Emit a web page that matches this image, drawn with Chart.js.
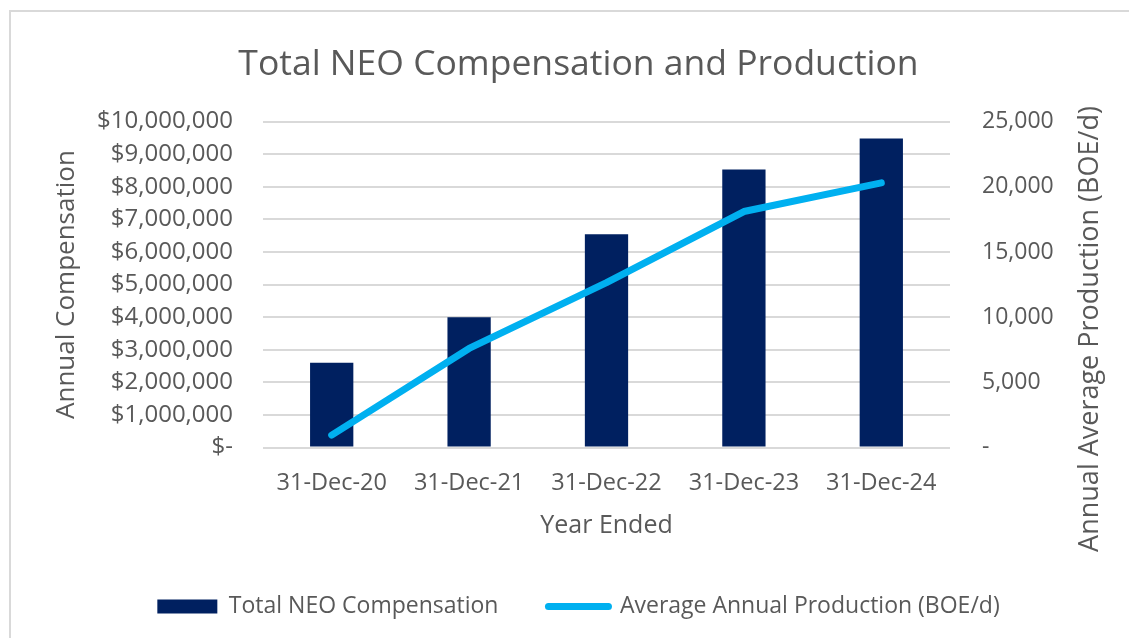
<!DOCTYPE html>
<html>
<head>
<meta charset="utf-8">
<title>Total NEO Compensation and Production</title>
<script src="https://cdn.jsdelivr.net/npm/chart.js@4.4.1/dist/chart.umd.min.js"></script>
<style>
  html, body { margin: 0; padding: 0; background: #fff; overflow: hidden; }
  #frame {
    position: absolute; left: 9px; top: 10px;
    width: 1200px; height: 700px;
    border: 2px solid #d9d9d9;
  }
  #wrap { position: absolute; left: 0; top: 0; width: 1129px; height: 638px; }
</style>
</head>
<body>
<div id="frame"></div>
<div id="wrap"><canvas id="myChart"></canvas></div>
<script>
'use strict'

// data
var years = ["31-Dec-20", "31-Dec-21", "31-Dec-22", "31-Dec-23", "31-Dec-24"];
var compensation = [2600000, 4000000, 6540000, 8530000, 9480000];
var production = [950, 7600, 12650, 18100, 20300];

var grey = "#595959";
var FONT = "'Open Sans', sans-serif";
var rightTitle = "Annual Average Production (BOE/d)";

// chart.js turns a right-hand axis title the other way, so draw it reading upwards
var rightTitlePlugin = {
  id: 'rightTitle',
  afterDraw: function(chart) {
    var c = chart.ctx;
    c.save();
    c.translate(1090, 329);
    c.rotate(-Math.PI / 2);
    c.fillStyle = grey;
    c.font = "27px " + FONT;
    c.textAlign = 'center';
    c.textBaseline = 'middle';
    c.fillText(rightTitle, 0, 0);
    c.restore();
  }
};

var ctx = document.getElementById("myChart");

var combo = new Chart(ctx, {
  type: 'bar',
  data: {
    labels: years,
    datasets: [{
      type: 'bar',
      label: "Total NEO Compensation",
      data: compensation,
      backgroundColor: "#002060",
      borderWidth: 0,
      categoryPercentage: 1,
      barPercentage: 0.315,
      yAxisID: 'y',
      order: 1
    },
    {
      type: 'line',
      label: "Average Annual Production (BOE/d)",
      data: production,
      borderColor: "#00B0F0",
      backgroundColor: "#00B0F0",
      borderWidth: 7,
      borderCapStyle: 'round',
      borderJoinStyle: 'round',
      pointRadius: 0,
      tension: 0,
      fill: false,
      yAxisID: 'y1',
      order: 0
    }]
  },
  options: {
    responsive: true,
    maintainAspectRatio: false,
    animation: false,
    layout: { padding: { left: 47, right: 19, top: 12, bottom: 13 } },
    plugins: {
      title: {
        display: true,
        text: "Total NEO Compensation and Production",
        color: grey,
        font: { family: FONT, size: 35.5, weight: 'normal' },
        padding: { top: 32, bottom: 35 }
      },
      legend: {
        position: 'bottom',
        maxHeight: 80,
        labels: {
          color: grey,
          font: { family: FONT, size: 23 },
          usePointStyle: true,
          pointStyleWidth: 60,
          boxHeight: 14,
          padding: 50,
          generateLabels: function(chart) {
            return chart.data.datasets.map(function(ds, i) {
              var isLine = ds.type === 'line';
              return {
                text: ds.label,
                fillStyle: ds.backgroundColor,
                strokeStyle: isLine ? ds.borderColor : ds.backgroundColor,
                lineWidth: isLine ? 7 : 0,
                lineCap: 'round',
                pointStyle: isLine ? 'line' : 'rect',
                fontColor: grey,
                datasetIndex: i
              };
            });
          }
        }
      },
      tooltip: { enabled: false }
    },
    scales: {
      x: {
        grid: { display: false },
        border: { display: false },
        ticks: { color: grey, padding: 14, font: { family: FONT, size: 23.5 } },
        title: {
          display: true, text: "Year Ended", color: grey,
          font: { family: FONT, size: 25 },
          padding: { top: 4, bottom: 4 }
        },
        afterFit: function(scale) { scale.height = 97.5; }
      },
      y: {
        position: 'left',
        min: 0, max: 10000000,
        ticks: {
          stepSize: 1000000, color: grey, padding: 30,
          font: { family: FONT, size: 24 },
          callback: function(v) { return v === 0 ? "$-" : "$" + v.toLocaleString('en-US'); }
        },
        grid: { color: "#d9d9d9", lineWidth: 2, drawTicks: false },
        border: { display: false },
        title: {
          display: true, text: "Annual Compensation", color: grey,
          font: { family: FONT, size: 26 }
        },
        afterFit: function(scale) { scale.width = 216; }
      },
      y1: {
        position: 'right',
        min: 0, max: 25000,
        ticks: {
          stepSize: 5000, color: grey, padding: 32,
          font: { family: FONT, size: 23 },
          callback: function(v) { return v === 0 ? "-" : v.toLocaleString('en-US'); }
        },
        grid: { drawOnChartArea: false, drawTicks: false },
        border: { display: false },
        afterFit: function(scale) { scale.width = 160; }
      }
    }
  },
  plugins: [rightTitlePlugin]
});
</script>
</body>
</html>
